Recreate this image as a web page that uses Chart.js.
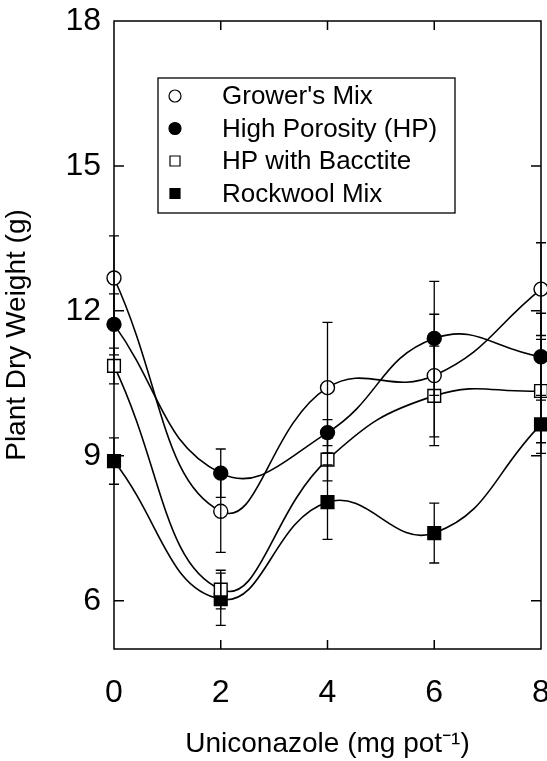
<!DOCTYPE html>
<html>
<head>
<meta charset="utf-8">
<script src="https://cdn.jsdelivr.net/npm/chart.js@4/dist/chart.umd.min.js"></script>
<style>
  body { margin: 0; background: #fff; }
  #wrap { width: 547px; height: 761px; }
</style>
</head>
<body>
<div id="wrap"><canvas id="chart" width="547" height="761"></canvas></div>
<script>
// doses (mg pot-1) on the x axis
const doses = [0, 2, 4, 6, 8];
const xTicks = [0, 2, 4, 6, 8];
const yTicks = [6, 9, 12, 15, 18];

const seriesNames = ["Grower's Mix", "High Porosity (HP)", "HP with Bacctite", "Rockwool Mix"];

// plant dry weight (g) and the error bar half-lengths
const growers = [12.68, 7.85, 10.41, 10.66, 12.45];
const growersErr = [0.87, 0.85, 1.35, 1.27, 0.96];
const highPorosity = [11.72, 8.64, 9.48, 11.43, 11.05];
const highPorosityErr = [0.63, 0.50, 0.27, 1.18, 0.90];
const bacctite = [10.86, 6.23, 8.92, 10.24, 10.34];
const bacctiteErr = [0.37, 0.40, 0.44, 1.03, 1.07];
const rockwool = [8.89, 6.03, 8.04, 7.40, 9.65];
const rockwoolErr = [0.48, 0.54, 0.77, 0.62, 0.60];

const FONT = "'Liberation Sans', Arial, Helvetica, sans-serif";

function pts(values) {
    return doses.map((d, i) => ({ x: d, y: values[i] }));
}

function makeSet(label, values, errs, style, filled, radius) {
    return {
        label: label,
        data: pts(values),
        errors: errs,
        borderColor: "#000",
        borderWidth: 1.6,
        tension: 0.45,
        pointStyle: style,
        pointRadius: radius,
        pointBorderWidth: 1.4,
        pointBorderColor: "#000",
        pointBackgroundColor: filled ? "#000" : "#fff",
        fill: false
    };
}

// no extra room for the end labels, the "8" runs off the edge like in the print
function noPadding(s) {
    s.paddingLeft = 0; s.paddingRight = 0; s.paddingTop = 0; s.paddingBottom = 0;
}

// error bars, drawn on top so they show through the open symbols like in the print
const errorBars = {
    id: "errorBars",
    afterDatasetsDraw(chart) {
        const ctx = chart.ctx;
        const x = chart.scales.x, y = chart.scales.y;
        ctx.save();
        ctx.strokeStyle = "#000";
        ctx.lineWidth = 1.3;
        chart.data.datasets.forEach(ds => {
            ds.data.forEach((p, i) => {
                const e = ds.errors[i];
                const px = x.getPixelForValue(p.x);
                const top = y.getPixelForValue(p.y + e);
                const bot = y.getPixelForValue(p.y - e);
                ctx.beginPath();
                ctx.moveTo(px, top); ctx.lineTo(px, bot);
                ctx.moveTo(px - 5, top); ctx.lineTo(px + 5, top);
                ctx.moveTo(px - 5, bot); ctx.lineTo(px + 5, bot);
                ctx.stroke();
            });
        });
        ctx.restore();
    }
};

// box around the plot with inward ticks on all four sides
const frame = {
    id: "frame",
    afterDraw(chart) {
        const ctx = chart.ctx;
        const a = chart.chartArea;
        const x = chart.scales.x, y = chart.scales.y;
        ctx.save();
        ctx.strokeStyle = "#000";
        ctx.lineWidth = 1.5;
        ctx.strokeRect(a.left, a.top, a.right - a.left, a.bottom - a.top);
        ctx.beginPath();
        xTicks.slice(1, -1).forEach(v => {
            const px = x.getPixelForValue(v);
            ctx.moveTo(px, a.bottom); ctx.lineTo(px, a.bottom - 9);
            ctx.moveTo(px, a.top); ctx.lineTo(px, a.top + 9);
        });
        yTicks.slice(0, -1).forEach(v => {
            const py = y.getPixelForValue(v);
            ctx.moveTo(a.left, py); ctx.lineTo(a.left + 10, py);
            ctx.moveTo(a.right, py); ctx.lineTo(a.right - 10, py);
        });
        ctx.stroke();
        ctx.restore();
    }
};

// boxed legend sitting inside the plot area
const boxLegend = {
    id: "boxLegend",
    afterDraw(chart) {
        const ctx = chart.ctx;
        const left = 158, top = 78, right = 455, bottom = 213;
        ctx.save();
        ctx.fillStyle = "#fff";
        ctx.fillRect(left, top, right - left, bottom - top);
        ctx.strokeStyle = "#000";
        ctx.lineWidth = 1.3;
        ctx.strokeRect(left, top, right - left, bottom - top);
        ctx.font = "26px " + FONT;
        ctx.textBaseline = "middle";
        chart.data.datasets.forEach((ds, i) => {
            const cy = 96 + i * 32.5;
            ctx.fillStyle = ds.pointBackgroundColor;
            ctx.strokeStyle = "#000";
            ctx.lineWidth = 1.2;
            ctx.beginPath();
            if (ds.pointStyle === "rect") {
                ctx.rect(170, cy - 5, 10, 10);
            } else {
                ctx.arc(175, cy, 6, 0, Math.PI * 2);
            }
            ctx.fill();
            ctx.stroke();
            ctx.fillStyle = "#000";
            ctx.fillText(ds.label, 222, cy + 1);
        });
        ctx.restore();
    }
};

const chart = new Chart(document.getElementById("chart").getContext("2d"), {
    type: "line",
    data: {
        datasets: [
            makeSet(seriesNames[0], growers, growersErr, "circle", false, 7),
            makeSet(seriesNames[1], highPorosity, highPorosityErr, "circle", true, 7),
            makeSet(seriesNames[2], bacctite, bacctiteErr, "rect", false, 9),
            makeSet(seriesNames[3], rockwool, rockwoolErr, "rect", true, 9)
        ]
    },
    options: {
        responsive: false,
        animation: false,
        devicePixelRatio: 1,
        clip: false,
        layout: { autoPadding: false, padding: { top: 21, right: 6, left: 0, bottom: 0 } },
        plugins: {
            legend: { display: false },
            tooltip: { enabled: false }
        },
        scales: {
            x: {
                type: "linear",
                min: 0,
                max: 8,
                afterBuildTicks: s => { s.ticks = xTicks.map(v => ({ value: v })); },
                afterFit: s => { s.height = 112; noPadding(s); },
                grid: { display: false, drawTicks: false },
                border: { display: false },
                ticks: {
                    color: "#000",
                    padding: 25,
                    maxRotation: 0,
                    font: { family: FONT, size: 32 }
                },
                title: {
                    display: true,
                    text: "Uniconazole (mg pot\u207B\u00B9)",
                    color: "#000",
                    padding: { top: 10, bottom: 0 },
                    font: { family: FONT, size: 28 }
                }
            },
            y: {
                type: "linear",
                min: 5,
                max: 18,
                afterBuildTicks: s => { s.ticks = yTicks.map(v => ({ value: v })); },
                afterFit: s => { s.width = 114; noPadding(s); },
                grid: { display: false, drawTicks: false },
                border: { display: false },
                ticks: {
                    color: "#000",
                    padding: 13,
                    font: { family: FONT, size: 32 }
                },
                title: {
                    display: true,
                    text: "Plant Dry Weight (g)",
                    color: "#000",
                    padding: { top: 0, bottom: 4 },
                    font: { family: FONT, size: 28 }
                }
            }
        }
    },
    plugins: [errorBars, frame, boxLegend]
});
</script>
</body>
</html>
